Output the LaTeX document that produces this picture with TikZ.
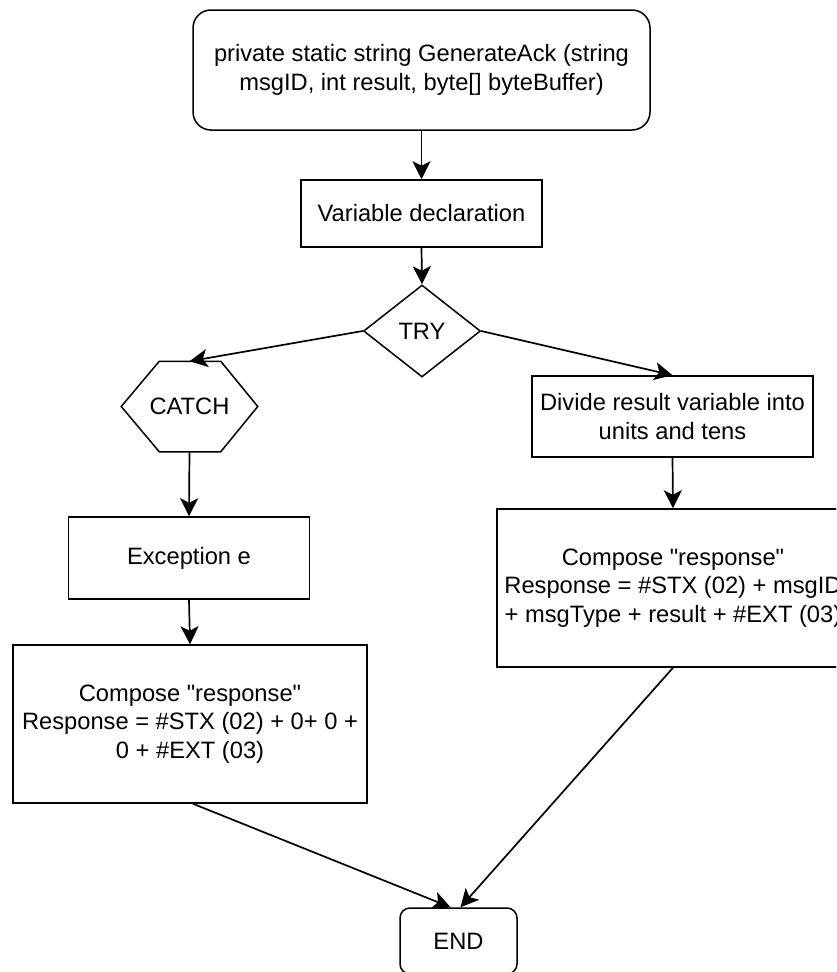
\documentclass[tikz,border=0pt]{standalone}
\usepackage{fontspec}
\setmainfont{Liberation Sans}
\usetikzlibrary{shapes.geometric,arrows.meta,calc}

\tikzset{
  base/.style={draw=black, line width=1.5pt, align=center, inner sep=0pt,
    font=\fontsize{23.7}{28.5}\selectfont},
  procbox/.style={base, rectangle},
  roundbox/.style={base, rectangle, rounded corners=18pt},
  decision/.style={base, diamond, aspect=1.27},
  flow/.style={line width=1.7pt, -{Stealth[length=18pt, width=18pt, inset=4.5pt]}},
}

\begin{document}
\begin{tikzpicture}[x=1pt,y=1pt]
  \clip (0,0) rectangle (836,-972);

  % start of the routine
  \node[roundbox, minimum width=457pt, minimum height=120pt] (start) at (421.5,-70)
    {private static string GenerateAck (string\\msgID, int result, byte[] byteBuffer)};

  \node[procbox, minimum width=241pt, minimum height=67pt] (decl) at (421.5,-213.5)
    {Variable declaration};

  \node[decision, minimum width=117pt, minimum height=92pt] (try) at (422,-331) {TRY};

  % catch branch (hexagon drawn around an invisible node)
  \node[base, draw=none, minimum width=135pt, minimum height=89pt] (catch) at (189.5,-406.5) {CATCH};
  \draw[line width=1.5pt, line join=miter]
    (catch.west) -- ($(catch.north west)+(38,0)$) -- ($(catch.north east)+(-37,0)$)
    -- (catch.east) -- ($(catch.south east)+(-37,0)$) -- ($(catch.south west)+(38,0)$)
    -- cycle;

  \node[procbox, minimum width=241pt, minimum height=82pt] (exc) at (189,-558) {Exception e};

  \node[procbox, minimum width=354pt, minimum height=158pt] (lcomp) at (190,-724)
    {Compose \textquotedbl response\textquotedbl\\Response = \#STX (02) + 0+ 0 +\\0 + \#EXT (03)};

  % try branch
  \node[procbox, minimum width=281pt, minimum height=81pt] (divide) at (672.5,-416.5)
    {Divide result variable into\\units and tens};

  \node[procbox, minimum width=352pt, minimum height=158pt] (rcomp) at (673,-588)
    {Compose \textquotedbl response\textquotedbl\\Response = \#STX (02) + msgID\\+ msgType + result + \#EXT (03)};

  % end of the routine
  \node[roundbox, rounded corners=10pt, minimum width=117pt, minimum height=66pt] (end) at (458.5,-941) {END};

  % connectors
  \draw[flow] (start.south) -- (decl.north);
  \draw[flow] (decl.south) -- (try.north);
  \draw[flow] (try.west) -- (catch.north);
  \draw[flow] (try.east) -- (divide.north);
  \draw[flow] (catch.south) -- (exc.north);
  \draw[flow] (exc.south) -- (lcomp.north);
  \draw[flow] (divide.south) -- (rcomp.north);
  \draw[flow] ([xshift=3pt]lcomp.south) -- ([xshift=-8pt]end.north);
  \draw[flow] (rcomp.south) -- ([xshift=2pt]end.north);
\end{tikzpicture}
\end{document}
